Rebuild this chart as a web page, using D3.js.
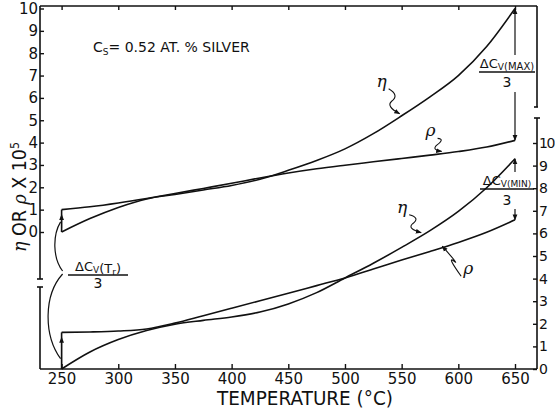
<!DOCTYPE html>
<html>
<head>
<meta charset="utf-8">
<script src="https://cdn.jsdelivr.net/npm/d3@7"></script>
<style>
  body { margin: 0; background: #fff; }
  svg { display: block; font-family: 'DejaVu Sans', sans-serif; }
  text { fill: #111; }
</style>
</head>
<body>
<svg width="555" height="408"></svg>
<script>
// temperatures (deg C) at which the curves were read
const temps = [250, 275, 300, 325, 350, 375, 400, 425, 450, 475, 500, 525, 550, 575, 600, 625, 650];
// upper pair, read on the left axis
const etaUpper = [0, 0.6, 1.1, 1.48, 1.68, 1.88, 2.08, 2.36, 2.76, 3.2, 3.72, 4.4, 5.2, 6.05, 7.0, 8.3, 10];
const rhoUpper = [1.0, 1.13, 1.3, 1.5, 1.72, 1.95, 2.18, 2.42, 2.64, 2.83, 2.99, 3.14, 3.29, 3.44, 3.6, 3.8, 4.1];
// lower pair, read on the right axis
const etaLower = [0, 0.75, 1.3, 1.7, 1.98, 2.15, 2.3, 2.52, 2.88, 3.38, 4.03, 4.68, 5.38, 6.12, 6.97, 8.02, 9.3];
const rhoLower = [1.62, 1.64, 1.68, 1.77, 2.03, 2.36, 2.69, 3.02, 3.35, 3.69, 4.03, 4.42, 4.82, 5.2, 5.6, 6.05, 6.6];

const xTicks = [250, 300, 350, 400, 450, 500, 550, 600, 650];
const yTicks = [0, 1, 2, 3, 4, 5, 6, 7, 8, 9, 10];

const svg = d3.select('svg');

const frame = {left: 40, right: 537, top: 6, bottom: 369};

const x = d3.scaleLinear().domain([250, 650]).range([61.6, 515]);
const yL = d3.scaleLinear().domain([0, 10]).range([232, 8.5]);
const yR = d3.scaleLinear().domain([0, 10]).range([369, 143]);

const ink = '#111';

// arrowhead marker
svg.append('defs').append('marker')
  .attr('id', 'arr')
  .attr('viewBox', '0 0 10 10')
  .attr('refX', 9).attr('refY', 5)
  .attr('markerWidth', 6).attr('markerHeight', 6)
  .attr('markerUnits', 'userSpaceOnUse')
  .attr('orient', 'auto-start-reverse')
  .append('path')
  .attr('d', 'M0,1 L10,5 L0,9 Z')
  .attr('fill', ink);

// frame with broken side axes
const frameLines = [
  [[frame.left, frame.top], [frame.right, frame.top]],
  [[frame.left, frame.bottom], [frame.right, frame.bottom]],
  [[frame.left, frame.top], [frame.left, 279]],
  [[frame.left - 3, 279], [frame.left + 3, 279]],
  [[frame.left, 287], [frame.left, frame.bottom]],
  [[frame.left - 3, 287], [frame.left + 3, 287]],
  [[frame.right, frame.top], [frame.right, 107]],
  [[frame.right - 3, 107], [frame.right + 1, 107]],
  [[frame.right, 118], [frame.right, frame.bottom]],
  [[frame.right - 3, 118], [frame.right + 3, 118]]
];
svg.append('g')
  .selectAll('line')
  .data(frameLines)
  .enter()
  .append('line')
  .attr('x1', d => d[0][0]).attr('y1', d => d[0][1])
  .attr('x2', d => d[1][0]).attr('y2', d => d[1][1])
  .attr('stroke', ink)
  .attr('stroke-width', 1.6);

// axes: ticks point inward, domain paths hidden (frame drawn above)
const styleAxis = (size, spacing) => g => {
  g.select('.domain').remove();
  g.selectAll('line').attr('stroke', ink).attr('stroke-width', 1.4);
  g.selectAll('text').attr('fill', ink)
    .style('font-size', size)
    .style('letter-spacing', spacing)
    .style('font-family', "'DejaVu Sans', sans-serif");
};

svg.append('g')
  .attr('transform', `translate(0,${frame.bottom})`)
  .call(d3.axisBottom(x).tickValues(xTicks).tickSize(-5).tickPadding(4))
  .call(styleAxis('15px', '0px'));

svg.append('g')
  .attr('transform', `translate(0,${frame.top})`)
  .call(d3.axisTop(x).tickValues(xTicks).tickSize(-4).tickFormat(''))
  .call(styleAxis('15px', '0px'));

svg.append('g')
  .attr('transform', `translate(${frame.left},0)`)
  .call(d3.axisLeft(yL).tickValues(yTicks).tickSize(-4).tickPadding(2))
  .call(styleAxis('15px', '0px'));

svg.append('g')
  .attr('transform', `translate(${frame.right},0)`)
  .call(d3.axisRight(yR).tickValues(yTicks).tickSize(-4).tickPadding(2))
  .call(styleAxis('14px', '-1.5px'));

// curves
const curve = (vals, y) => d3.line()
  .x((d, i) => x(temps[i]))
  .y(d => y(d))
  .curve(d3.curveMonotoneX)(vals);

const series = [
  {vals: etaUpper, y: yL},
  {vals: rhoUpper, y: yL},
  {vals: etaLower, y: yR},
  {vals: rhoLower, y: yR}
];
svg.append('g')
  .selectAll('path')
  .data(series)
  .enter()
  .append('path')
  .attr('d', d => curve(d.vals, d.y))
  .attr('fill', 'none')
  .attr('stroke', ink)
  .attr('stroke-width', 1.6);

const last = etaUpper.length - 1;

// verticals at 250 C joining the curves
const joins = [
  [x(250), yL(rhoUpper[0]), yL(etaUpper[0])],
  [x(250), yR(rhoLower[0]), yR(etaLower[0])]
];
svg.append('g')
  .selectAll('line')
  .data(joins)
  .enter()
  .append('line')
  .attr('x1', d => d[0]).attr('x2', d => d[0])
  .attr('y1', d => d[1]).attr('y2', d => d[2])
  .attr('stroke', ink)
  .attr('stroke-width', 1.6);

// double arrows at 650 C, broken by the labels
const arrows = [
  [yL(rhoUpper[last]), 92],
  [yL(etaUpper[last]), 55],
  [yR(rhoLower[last]), 209],
  [yR(etaLower[last]), 172]
];
svg.append('g')
  .selectAll('line')
  .data(arrows)
  .enter()
  .append('line')
  .attr('x1', x(650)).attr('x2', x(650))
  .attr('y1', d => d[1]).attr('y2', d => d[0])
  .attr('stroke', ink)
  .attr('stroke-width', 1.2)
  .attr('marker-end', 'url(#arr)');

// small upward arrows on the 250 C joins
svg.append('g')
  .selectAll('line')
  .data(joins)
  .enter()
  .append('line')
  .attr('x1', d => d[0]).attr('x2', d => d[0])
  .attr('y1', d => d[2] - 4).attr('y2', d => d[1] + 5)
  .attr('stroke', ink)
  .attr('stroke-width', 1)
  .attr('marker-end', 'url(#arr)');

// brace for delta Cv(Tr)/3
const bx = x(250);
const brace = d3.path();
brace.moveTo(bx - 1, (yL(rhoUpper[0]) + yL(etaUpper[0])) / 2 + 1);
brace.bezierCurveTo(bx - 9, 235, bx - 9, 258, bx + 1, 271);
brace.moveTo(bx + 1, 274);
brace.bezierCurveTo(bx - 18, 295, bx - 18, 335, bx - 1, (yR(rhoLower[0]) + yR(etaLower[0])) / 2 + 8);
svg.append('path')
  .attr('d', brace.toString())
  .attr('fill', 'none')
  .attr('stroke', ink)
  .attr('stroke-width', 1.2);

// squiggly pointers to the curves
const pointers = [
  {t: 550, vals: etaUpper, y: yL, label: 'η', dx: -20, dy: -29},
  {t: 587, vals: rhoUpper, y: yL, label: 'ρ', dx: -13, dy: -17},
  {t: 569, vals: etaLower, y: yR, label: 'η', dx: -21, dy: -22},
  {t: 584, vals: rhoLower, y: yR, label: 'ρ', dx: 28, dy: 26}
];
const interp = (vals, t) => {
  const i = Math.min(temps.length - 2, Math.floor((t - 250) / 25));
  const f = (t - temps[i]) / 25;
  return vals[i] + f * (vals[i + 1] - vals[i]);
};
pointers.forEach(p => {
  const tx = x(p.t), ty = p.y(interp(p.vals, p.t));
  const sx = tx + p.dx, sy = ty + p.dy;
  const g = svg.append('g');
  const sq = d3.path();
  const mx = (sx + tx) / 2, my = (sy + ty) / 2;
  const s = p.dx < 0 ? 1 : -1;
  sq.moveTo(sx + 7 * s, sy + 2);
  sq.quadraticCurveTo(mx + 8 * s, my - 6, mx, my);
  sq.quadraticCurveTo(mx - 6 * s, my + 5, tx - 2 * s, ty - 2);
  g.append('path')
    .attr('d', sq.toString())
    .attr('fill', 'none')
    .attr('stroke', ink)
    .attr('stroke-width', 1.1)
    .attr('marker-end', 'url(#arr)');
  g.append('text')
    .attr('x', sx)
    .attr('y', sy)
    .attr('text-anchor', 'middle')
    .style('font-family', "'DejaVu Serif', serif")
    .style('font-style', 'italic')
    .style('font-size', '17px')
    .text(p.label);
});

// fraction labels
const fraction = (cx, cy, w, gap) => {
  const g = svg.append('g');
  const t = g.append('text')
    .attr('x', cx).attr('y', cy)
    .attr('text-anchor', 'middle')
    .style('font-size', '13px');
  t.append('tspan').text('ΔC');
  t.append('tspan').attr('dy', 2).style('font-size', '9px').text('V');
  t.append('tspan').attr('dy', -2).text('');
  g.append('line')
    .attr('x1', cx - w / 2).attr('x2', cx + w / 2)
    .attr('y1', cy + 4).attr('y2', cy + 4)
    .attr('stroke', ink).attr('stroke-width', 1.4);
  g.append('text')
    .attr('x', cx).attr('y', cy + gap)
    .attr('text-anchor', 'middle')
    .style('font-size', '14px')
    .text('3');
  return t;
};

const tr = fraction(98, 271, 60, 17);
tr.append('tspan').text('(T');
tr.append('tspan').attr('dy', 2).style('font-size', '9px').text('r');
tr.append('tspan').attr('dy', -2).text(')');

const mxl = fraction(507, 68, 56, 19);
mxl.append('tspan').style('font-size', '10px').text('(MAX)');

const mnl = fraction(507, 185, 54, 20);
mnl.append('tspan').style('font-size', '9px').text('(MIN)');

// composition note
const note = svg.append('text')
  .attr('x', 93).attr('y', 52)
  .style('font-size', '14px');
note.append('tspan').text('C');
note.append('tspan').attr('dy', 3).style('font-size', '9px').text('S');
note.append('tspan').attr('dy', -3).text('= 0.52  AT. %  SILVER');

// axis titles
svg.append('text')
  .attr('x', 305).attr('y', 405)
  .attr('text-anchor', 'middle')
  .attr('textLength', 176)
  .attr('lengthAdjust', 'spacingAndGlyphs')
  .style('font-size', '19px')
  .text('TEMPERATURE (°C)');

const yt = svg.append('text')
  .attr('transform', 'translate(26,197) rotate(-90)')
  .attr('text-anchor', 'middle')
  .attr('textLength', 110)
  .attr('lengthAdjust', 'spacingAndGlyphs')
  .style('font-size', '19px');
yt.append('tspan').style('font-family', "'DejaVu Serif', serif").style('font-style', 'italic').text('η');
yt.append('tspan').text(' OR ');
yt.append('tspan').style('font-family', "'DejaVu Serif', serif").style('font-style', 'italic').text('ρ');
yt.append('tspan').text(' X 10');
yt.append('tspan').attr('dy', -7).style('font-size', '12px').text('5');
</script>
</body>
</html>
